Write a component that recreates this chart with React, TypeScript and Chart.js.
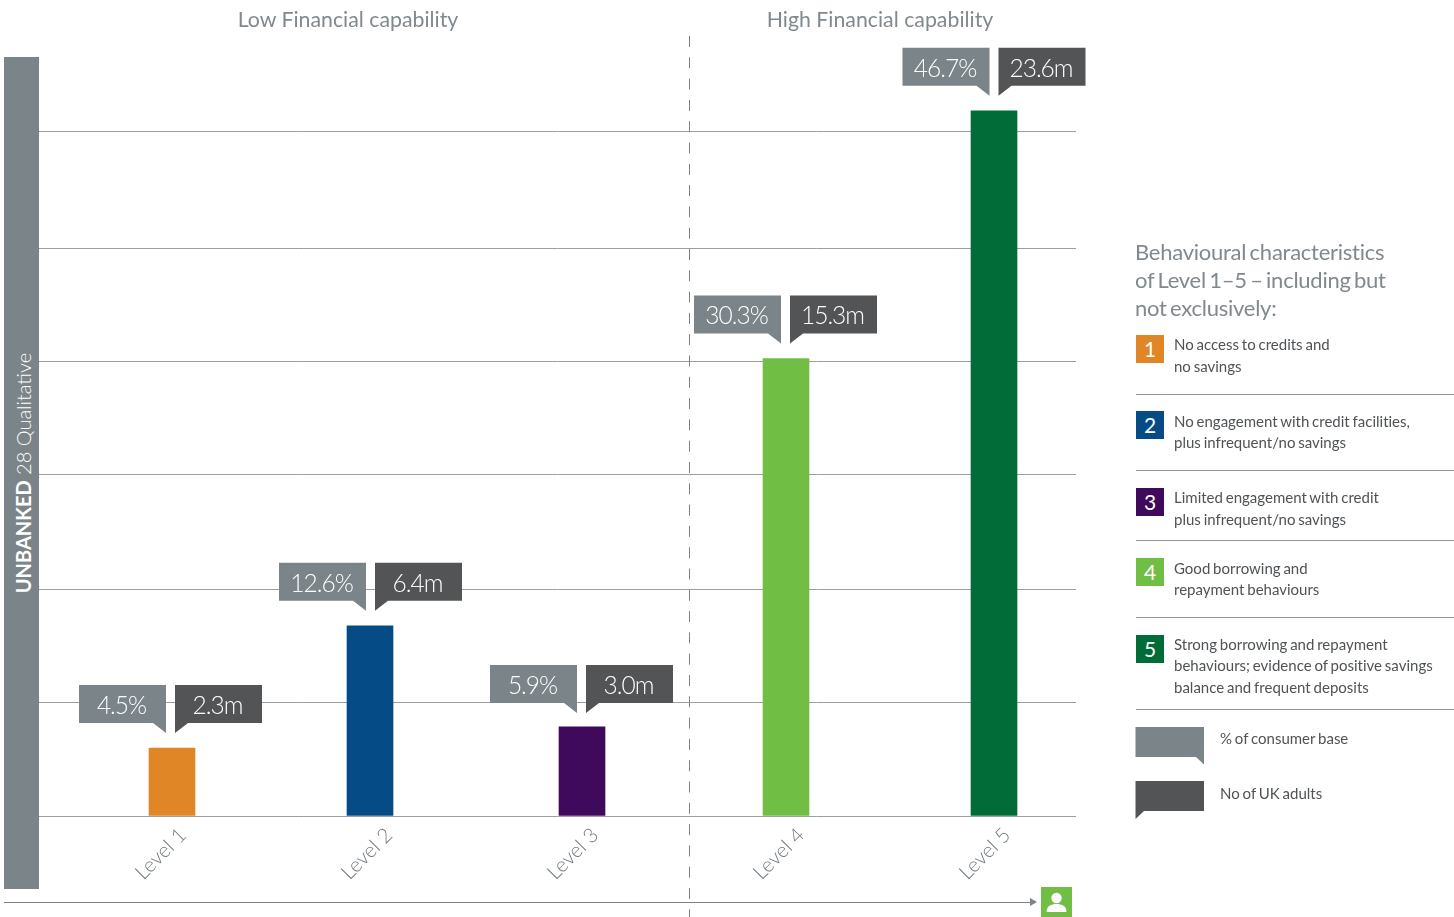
import React, { useEffect, useRef } from "react";
import { Chart, registerables } from "chart.js";

Chart.register(...registerables);

const levels = ["Level 1", "Level 2", "Level 3", "Level 4", "Level 5"];
const consumerPct = [4.5, 12.6, 5.9, 30.3, 46.7];
const ukAdultsM = [2.3, 6.4, 3.0, 15.3, 23.6];
const levelColors = ["#E08627", "#054C86", "#3F0A5C", "#70BF44", "#016C37"];
const gridTicks = [0, 7.5, 15, 22.6, 30.1, 37.6, 45.3];
const barNudge = [1, -7, -1, -3, -1];
const calloutNudge = [-1.5, 0.5, -0.5, -0.5, 0];
const calloutLift = [63, 63, 62, 63, 63];

const groupTitles = ["Low Financial capability", "High Financial capability"];
const legendTitle = ["Behavioural characteristics", "of Level 1–5 – including but", "not exclusively:"];
const legendItems = [
  ["No access to credits and", "no savings"],
  ["No engagement with credit facilities,", "plus infrequent/no savings"],
  ["Limited engagement with credit", "plus infrequent/no savings"],
  ["Good borrowing and", "repayment behaviours"],
  ["Strong borrowing and repayment", "behaviours; evidence of positive savings", "balance and frequent deposits"],
];

const FONT = "Lato, 'Open Sans', sans-serif";
const GREY = "#7B8489";
const DARK = "#535456";
const TITLE = "#80898D";
const BODY = "#4F5356";
const RULE = "#8F989C";

function callout(ctx: CanvasRenderingContext2D, right: boolean, cx: number, barTop: number, lift: number, text: string) {
  const w = 87, h = 38, gap = 4.5, tail = 10, tailW = 13;
  const y = barTop - lift;
  ctx.beginPath();
  if (right) {
    const x = cx - gap - w;
    ctx.moveTo(x, y);
    ctx.lineTo(x + w, y);
    ctx.lineTo(x + w, y + h + tail);
    ctx.lineTo(x + w - tailW, y + h);
    ctx.lineTo(x, y + h);
    ctx.fillStyle = GREY;
  } else {
    const x = cx + gap;
    ctx.moveTo(x, y);
    ctx.lineTo(x + w, y);
    ctx.lineTo(x + w, y + h);
    ctx.lineTo(x + tailW, y + h);
    ctx.lineTo(x, y + h + tail);
    ctx.fillStyle = DARK;
  }
  ctx.closePath();
  ctx.fill();
  ctx.fillStyle = "#FFFFFF";
  ctx.font = `300 24.5px ${FONT}`;
  (ctx as any).letterSpacing = "-1px";
  ctx.textAlign = "center";
  ctx.textBaseline = "middle";
  const tx = right ? cx - gap - w / 2 : cx + gap + w / 2;
  ctx.fillText(text, tx - 1, y + h / 2 + 2);
  (ctx as any).letterSpacing = "0px";
}

const levelPlugin = {
  id: "levelPlugin",
  afterDatasetsUpdate(chart: any) {
    chart.getDatasetMeta(0).data.forEach((el: any, i: number) => {
      el.x += barNudge[i];
    });
  },
  afterDraw(chart: any) {
    const ctx: CanvasRenderingContext2D = chart.ctx;
    ctx.save();
    ctx.strokeStyle = "#7B8387";
    ctx.lineWidth = 1;
    ctx.setLineDash([11, 10.3]);
    ctx.beginPath();
    ctx.moveTo(689.5, 36);
    ctx.lineTo(689.5, 917);
    ctx.stroke();
    ctx.setLineDash([]);
    chart.getDatasetMeta(0).data.forEach((el: any, i: number) => {
      callout(ctx, true, el.x + calloutNudge[i], el.y, calloutLift[i], `${consumerPct[i].toFixed(1)}%`);
      callout(ctx, false, el.x + calloutNudge[i], el.y, calloutLift[i], `${ukAdultsM[i].toFixed(1)}m`);
    });
    ctx.restore();
  },
};

const abs = (s: React.CSSProperties): React.CSSProperties => ({ position: "absolute", whiteSpace: "nowrap", ...s });

function TextLine({ x, y, size, color, children, weight = 400, center = false, ls = 0, ws = 0 }: any) {
  return (
    <div
      style={abs({
        left: x,
        top: y,
        fontSize: size,
        color,
        fontWeight: weight,
        lineHeight: 1,
        letterSpacing: ls,
        wordSpacing: ws,
        fontVariantLigatures: "none",
        transform: center ? "translate(-50%,-50%)" : "translateY(-50%)",
      })}
    >
      {children}
    </div>
  );
}

export default function App() {
  const ref = useRef<HTMLCanvasElement>(null);
  useEffect(() => {
    document.body.style.margin = "0";
    document.body.style.overflow = "hidden";
    const chart = new Chart(ref.current as HTMLCanvasElement, {
      type: "bar",
      data: {
        datasets: [
          {
            data: consumerPct.map((v, i) => ({ x: i + 1, y: v })),
            backgroundColor: levelColors,
            barThickness: 46,
            borderWidth: 0,
          },
        ],
      },
      plugins: [levelPlugin],
      options: {
        responsive: false,
        animation: false,
        layout: { padding: { left: 39, right: 378, top: 61, bottom: 0 } },
        plugins: { legend: { display: false }, tooltip: { enabled: false }, title: { display: false } },
        scales: {
          x: {
            type: "linear",
            offset: false,
            min: 0.3592,
            max: 5.3932,
            grid: { display: false },
            border: { display: false },
            afterBuildTicks: (s: any) => {
              s.ticks = levels.map((_, i) => ({ value: i + 1 }));
            },
            afterFit: (s: any) => {
              s.height = 101;
            },
            ticks: {
              autoSkip: false,
              minRotation: 45,
              maxRotation: 45,
              padding: -1,
              labelOffset: 12,
              color: "#737C80",
              font: { family: FONT, size: 20.5, weight: "300" },
              callback: (v: any) => levels[Number(v) - 1],
            },
          },
          y: {
            min: 0,
            max: 50,
            border: { display: false },
            grid: { color: "#98A0A3", lineWidth: 1, drawTicks: false },
            afterBuildTicks: (s: any) => {
              s.ticks = gridTicks.map((value) => ({ value }));
            },
            afterFit: (s: any) => {
              s.width = 0;
            },
            ticks: { display: false },
          },
        },
      } as any,
    });
    return () => chart.destroy();
  }, []);

  const boxes = [349, 425, 502, 572, 649];
  const lineYs = [
    [344, 366],
    [421, 442],
    [497, 519],
    [568, 589],
    [644, 665, 687],
  ];
  const rules = [395, 471, 541, 618, 710];

  return (
    <div style={{ position: "relative", width: 1454, height: 917, overflow: "hidden", background: "#fff", fontFamily: FONT }}>
      <canvas ref={ref} width={1454} height={917} style={{ display: "block", position: "absolute", left: 0, top: 0 }} />

      <TextLine x={348} y={20} size={21.3} color={TITLE} center>{groupTitles[0]}</TextLine>
      <TextLine x={880} y={20} size={21.3} color={TITLE} center>{groupTitles[1]}</TextLine>

      <div style={abs({ left: 4, top: 57, width: 35, height: 832, background: GREY })} />
      <div
        style={abs({
          left: 23,
          top: 473,
          fontSize: 20,
          lineHeight: 1,
          color: "#fff",
          transform: "translate(-50%,-50%) rotate(-90deg)",
        })}
      >
        <span style={{ fontWeight: 700 }}>UNBANKED</span>
        <span style={{ fontWeight: 300 }}> 28 Qualitative</span>
      </div>

      <div style={abs({ left: 4, top: 902, width: 1026, height: 1, background: GREY })} />
      <div
        style={abs({
          left: 1030,
          top: 898,
          width: 0,
          height: 0,
          borderTop: "4.5px solid transparent",
          borderBottom: "4.5px solid transparent",
          borderLeft: `7px solid ${GREY}`,
        })}
      />
      <svg style={{ position: "absolute", left: 1041, top: 887 }} width={31} height={30} viewBox="0 0 31 30">
        <rect width={31} height={30} fill={levelColors[3]} />
        <circle cx={15.5} cy={11} r={5.2} fill="#fff" />
        <path d="M5.5 25 C5.5 19 10 17 15.5 17 C21 17 25.5 19 25.5 25 Z" fill="#fff" />
      </svg>

      {legendTitle.map((t, i) => (
        <TextLine key={t} x={1135} y={252 + i * 28} size={22} color={TITLE} ls={-0.25} ws={-2}>{t}</TextLine>
      ))}

      {legendItems.map((lines, i) => (
        <React.Fragment key={i}>
          <div
            style={abs({
              left: 1136,
              top: boxes[i] - 14,
              width: 28,
              height: 28,
              background: levelColors[i],
              color: "#fff",
              fontSize: 21,
              lineHeight: "28px",
              textAlign: "center",
            })}
          >
            {i + 1}
          </div>
          {lines.map((l, j) => (
            <TextLine key={j} x={1174} y={lineYs[i][j]} size={15} color={BODY} ws={-1}>{l}</TextLine>
          ))}
          <div style={abs({ left: 1136, top: rules[i] - 1, width: 318, height: 1, background: RULE })} />
        </React.Fragment>
      ))}

      <svg style={{ position: "absolute", left: 1135, top: 726 }} width={70} height={95} viewBox="0 0 70 95">
        <path d="M0.5 1 H69 V38.5 L61 31 H0.5 Z" fill={GREY} />
        <path d="M0.5 55 H69 V85 H9 L0.5 93 Z" fill={DARK} />
      </svg>
      <TextLine x={1220} y={738} size={15} color={BODY} ws={-1}>% of consumer base</TextLine>
      <TextLine x={1220} y={793} size={15} color={BODY} ws={-1}>No of UK adults</TextLine>
    </div>
  );
}
